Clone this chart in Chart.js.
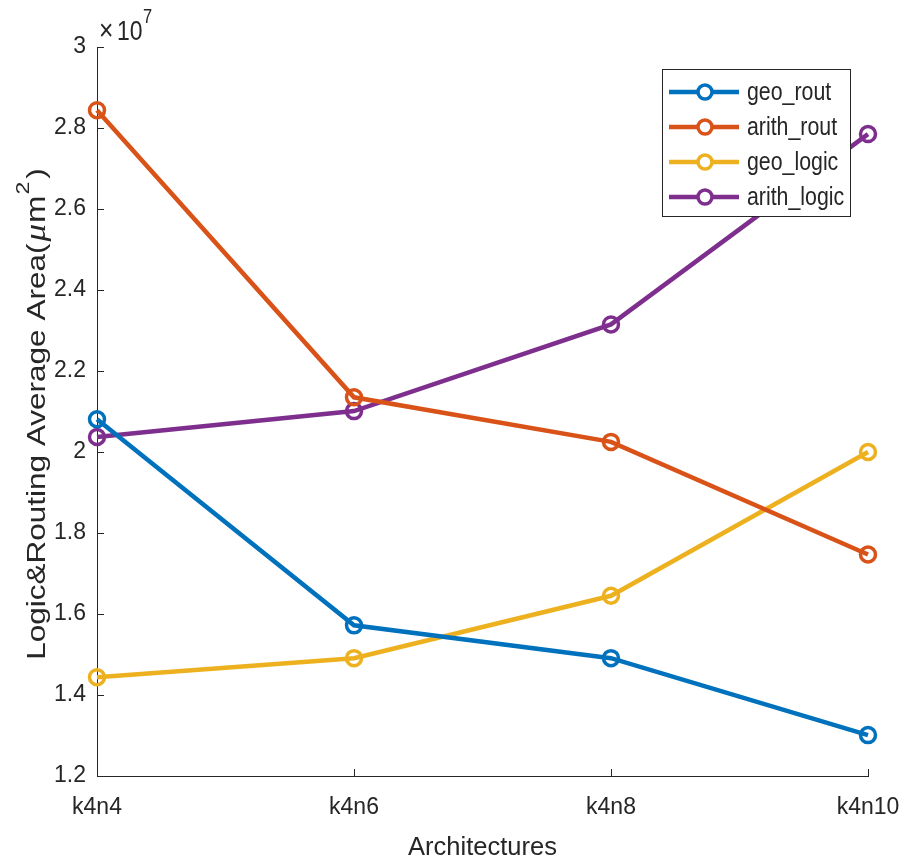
<!DOCTYPE html>
<html>
<head>
<meta charset="utf-8">
<script src="https://cdn.jsdelivr.net/npm/chart.js@4.4.0/dist/chart.umd.min.js"></script>
<style>
  body { margin: 0; background: #fff; }
  #myChart { display: block; }
</style>
</head>
<body>
<canvas id="myChart" width="904" height="865"></canvas>
<script>
// data (values in um^2)
var architectures = ["k4n4", "k4n6", "k4n8", "k4n10"];
var geoRout = [20810000, 15720000, 14910000, 13010000];
var arithRout = [28440000, 21350000, 20250000, 17470000];
var geoLogic = [14440000, 14910000, 16450000, 20000000];
var arithLogic = [20370000, 21010000, 23150000, 27850000];
var seriesNames = ["geo_rout", "arith_rout", "geo_logic", "arith_logic"];
var seriesColors = ["#0072BD", "#D95319", "#EDB120", "#7E2F8E"];
var yTicks = [12000000, 14000000, 16000000, 18000000, 20000000, 22000000, 24000000, 26000000, 28000000, 30000000];

var axisColor = "#262626";
var fontName = "'Liberation Sans', Arial, sans-serif";
var squeeze = 0.82; // the figure text is narrower than Arial

function makeSet(i, values){
    return {
        label: seriesNames[i],
        data: values,
        borderColor: seriesColors[i],
        backgroundColor: seriesColors[i],
        borderWidth: 4.5,
        pointRadius: 7.5,
        pointHoverRadius: 7.5,
        pointBorderWidth: 3.5,
        pointBackgroundColor: "rgba(0,0,0,0)",
        pointBorderColor: seriesColors[i],
        tension: 0,
        fill: false
    };
}

function squeezedText(ctx, text, x, y, font){
    ctx.save();
    ctx.translate(x, y);
    ctx.scale(squeeze, 1);
    ctx.font = font;
    ctx.fillText(text, 0, 0);
    ctx.restore();
}

// inward tick marks, exponent label, y title and the boxed legend
var matlabBits = {
    id: "matlabBits",
    afterDraw: function(chart){
        var ctx = chart.ctx;
        var xs = chart.scales.x, ys = chart.scales.y;
        var area = chart.chartArea;
        ctx.save();
        ctx.strokeStyle = axisColor;
        ctx.lineWidth = 1;
        ctx.beginPath();
        ys.ticks.forEach(function(t, i){
            var py = Math.round(ys.getPixelForTick(i)) + 0.5;
            ctx.moveTo(area.left, py);
            ctx.lineTo(area.left + 7, py);
        });
        xs.ticks.forEach(function(t, i){
            var px = Math.round(xs.getPixelForTick(i)) + 0.5;
            ctx.moveTo(px, area.bottom);
            ctx.lineTo(px, area.bottom - 7);
        });
        ctx.stroke();

        // x10^7
        ctx.fillStyle = axisColor;
        ctx.textBaseline = "alphabetic";
        ctx.textAlign = "left";
        squeezedText(ctx, "\u00d7", 99, 40, "30px " + fontName);
        squeezedText(ctx, "10", 117, 40, "28px " + fontName);
        squeezedText(ctx, "7", 143, 23, "20px " + fontName);

        // y title with italic mu and superscript
        var parts = [
            { t: "Logic&Routing Average Area(", f: "31.5px " + fontName, dy: 0, gap: 2 },
            { t: "\u03bc", f: "italic 35px 'Liberation Serif', serif", dy: 0, gap: 1 },
            { t: "m", f: "33px " + fontName, dy: 0, gap: 1 },
            { t: "2", f: "23px " + fontName, dy: -19, gap: 3 },
            { t: ")", f: "31.5px " + fontName, dy: 0, gap: 0 }
        ];
        var total = 0;
        parts.forEach(function(p){ ctx.font = p.f; p.w = ctx.measureText(p.t).width + p.gap; total += p.w; });
        ctx.save();
        ctx.translate(45, 414);
        ctx.rotate(-Math.PI / 2);
        ctx.scale(1, squeeze);
        var cx = -total / 2;
        parts.forEach(function(p){
            ctx.font = p.f;
            ctx.fillText(p.t, cx, p.dy);
            cx += p.w;
        });
        ctx.restore();

        // legend
        var bx = 662.5, by = 69.5, bw = 188, bh = 147;
        ctx.fillStyle = "#fff";
        ctx.fillRect(bx, by, bw, bh);
        ctx.strokeStyle = axisColor;
        ctx.lineWidth = 1;
        ctx.strokeRect(bx, by, bw, bh);
        ctx.textBaseline = "middle";
        chart.data.datasets.forEach(function(ds, i){
            var ry = 92 + i * 35;
            ctx.strokeStyle = ds.borderColor;
            ctx.lineWidth = 4.5;
            ctx.beginPath();
            ctx.moveTo(669, ry);
            ctx.lineTo(739, ry);
            ctx.stroke();
            ctx.lineWidth = 3.5;
            ctx.fillStyle = "#fff";
            ctx.beginPath();
            ctx.arc(705, ry, 7, 0, Math.PI * 2);
            ctx.fill();
            ctx.stroke();
            ctx.fillStyle = axisColor;
            squeezedText(ctx, ds.label, 747, ry + 1, "26px " + fontName);
        });
        ctx.restore();
    }
};

var ctx = document.getElementById("myChart").getContext("2d");
var myChart = new Chart(ctx, {
    type: "line",
    data: {
        labels: architectures,
        datasets: [
            makeSet(0, geoRout),
            makeSet(1, arithRout),
            makeSet(2, geoLogic),
            makeSet(3, arithLogic)
        ]
    },
    options: {
        responsive: false,
        animation: false,
        layout: { padding: { top: 47, right: 36, left: 0, bottom: 0 } },
        plugins: {
            legend: { display: false },
            tooltip: { enabled: false }
        },
        scales: {
            x: {
                offset: false,
                grid: { display: false, drawTicks: false },
                border: { display: true, color: axisColor, width: 1 },
                ticks: {
                    color: axisColor,
                    font: { family: fontName, size: 23 },
                    padding: 18,
                    maxRotation: 0,
                    autoSkip: false
                },
                title: {
                    display: true,
                    text: "Architectures",
                    color: axisColor,
                    font: { family: fontName, size: 25.5 },
                    padding: { top: 0, bottom: 2 }
                },
                afterFit: function(scale){
                    scale.height = 89;
                    scale.paddingLeft = 0;
                    scale.paddingRight = 0;
                }
            },
            y: {
                min: 12000000,
                max: 30000000,
                afterBuildTicks: function(scale){
                    scale.ticks = yTicks.map(function(v){ return { value: v }; });
                },
                grid: { display: false, drawTicks: false },
                border: { display: true, color: axisColor, width: 1 },
                ticks: {
                    color: axisColor,
                    font: { family: fontName, size: 23 },
                    padding: 11,
                    callback: function(v){ return String(Number((v / 1e7).toFixed(1))); }
                },
                title: { display: false },
                afterFit: function(scale){
                    scale.width = 97;
                    scale.paddingTop = 0;
                    scale.paddingBottom = 0;
                }
            }
        }
    },
    plugins: [matlabBits]
});
</script>
</body>
</html>
